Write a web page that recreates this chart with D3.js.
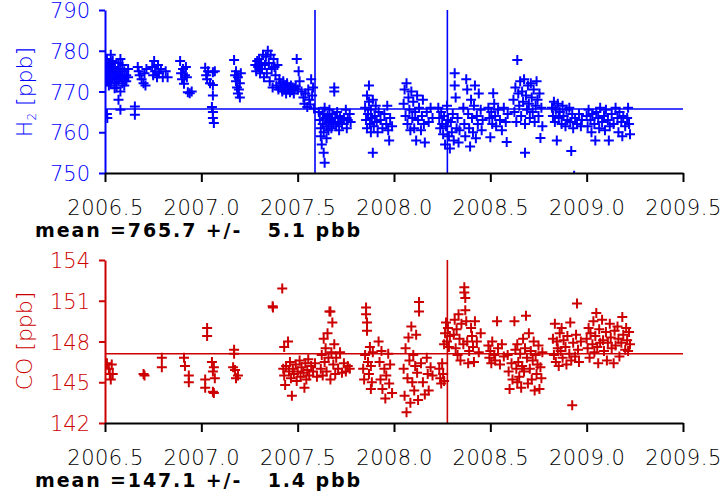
<!DOCTYPE html>
<html>
<head>
<meta charset="utf-8">
<script src="https://cdn.jsdelivr.net/npm/d3@7"></script>
<style>
  html, body { margin: 0; padding: 0; background: #fff; }
  svg { display: block; }
  text { font-family: "DejaVu Sans", "Liberation Sans", sans-serif; }
</style>
</head>
<body>
<svg id="chart" width="723" height="497"></svg>
<script>
// ---------- DATA ----------
const xTicks = [2006.5, 2007.0, 2007.5, 2008.0, 2008.5, 2009.0, 2009.5];
const h2Ticks = [750, 760, 770, 780, 790];
const coTicks = [142, 145, 148, 151, 154];
const h2Mean = 765.7, h2Std = 5.1;
const coMean = 147.1, coStd = 1.4;
const h2Events = [2007.59, 2008.277];
const coEvents = [2008.277];

// [decimal year, H2 ppb]
const h2Data = [
 [2006.51,776],[2006.51,774],[2006.51,772.5],[2006.51,778],[2006.51,764.5],[2006.512,763.5],
 [2006.52,777],[2006.52,775],[2006.52,773],[2006.52,771.5],[2006.53,779],[2006.53,776.5],[2006.53,774.5],[2006.53,772],
 [2006.54,775.5],[2006.54,773.5],[2006.54,777.5],[2006.55,774],[2006.55,772],[2006.55,770.8],[2006.55,776],
 [2006.56,775],[2006.56,773],[2006.56,771],[2006.57,774.5],[2006.57,777],[2006.57,772.5],[2006.57,768],
 [2006.58,775.5],[2006.58,773.5],[2006.58,778],[2006.58,765.5],[2006.58,770],[2006.59,774],[2006.59,772],[2006.59,776.5],
 [2006.60,773],[2006.60,775],[2006.60,771.5],[2006.61,774],[2006.61,772.5],[2006.62,773.5],[2006.62,775.5],
 [2006.655,766.3],[2006.655,764.3],
 [2006.67,776],[2006.675,775],[2006.68,774],[2006.69,773],[2006.7,772],[2006.71,771.5],[2006.705,774.5],[2006.715,775.5],
 [2006.745,776],[2006.75,774],[2006.755,777.5],[2006.76,775],[2006.77,773.5],[2006.775,776.5],[2006.78,774.5],[2006.79,775.5],[2006.80,773.5],[2006.815,775],[2006.825,773.5],
 [2006.89,777.5],[2006.895,774.5],[2006.90,773],[2006.905,775.5],[2006.91,771.9],[2006.915,774],[2006.92,776],[2006.925,773.5],[2006.93,769.8],[2006.94,769.6],[2006.95,770],
 [2007.02,775.8],[2007.025,774],[2007.03,773],[2007.035,775],[2007.045,772],[2007.06,774.7],[2007.06,771.6],[2007.06,769],[2007.055,766.2],[2007.06,765],[2007.06,763.5],[2007.065,762.3],[2007.07,775],
 [2007.17,777.7],[2007.175,774],[2007.18,775],[2007.18,772.5],[2007.185,771],[2007.19,773.5],[2007.19,769.5],[2007.195,770.5],[2007.2,772],[2007.205,774.5],[2007.2,768.5],
 [2007.28,776.5],[2007.285,775],[2007.29,777.5],[2007.295,776],[2007.30,778],[2007.305,774.5],[2007.31,777],[2007.315,775.5],[2007.32,779],[2007.325,773.5],
 [2007.33,776.5],[2007.335,778.5],[2007.34,774.5],[2007.345,780],[2007.35,777],[2007.355,772.5],[2007.36,779],[2007.365,775.5],[2007.37,771],[2007.375,778],
 [2007.38,776],[2007.385,774],[2007.39,771.5],[2007.395,776.5],[2007.40,770.5],[2007.405,773],[2007.41,772],[2007.415,771],[2007.42,770],[2007.425,772.5],
 [2007.43,770.5],[2007.435,771.5],[2007.44,769.5],[2007.445,772],[2007.45,770.5],[2007.455,771],[2007.46,769.8],[2007.465,771.5],[2007.47,770.3],[2007.475,771],
 [2007.48,769.5],[2007.485,770.8],[2007.49,771.2],[2007.495,778],[2007.50,770.5],[2007.505,775],[2007.51,772.5],
 [2007.52,770],[2007.53,768.5],[2007.535,767],[2007.54,769.5],[2007.55,766.2],[2007.555,770.5],[2007.56,768],[2007.565,766.8],[2007.57,773],[2007.575,769],[2007.58,771],[2007.585,765.8],
 [2007.61,765],[2007.615,763],[2007.62,761],[2007.62,759],[2007.625,757],[2007.63,764.5],[2007.63,762],[2007.635,760],[2007.635,755],[2007.64,752.5],
 [2007.64,766],[2007.645,763.5],[2007.65,761.5],[2007.65,758.5],[2007.655,764],[2007.66,762.5],[2007.66,760.5],[2007.665,765.5],[2007.67,763],[2007.675,761],
 [2007.68,764.5],[2007.685,762],[2007.69,771],[2007.69,770],[2007.695,763.5],[2007.70,761.5],[2007.705,765],[2007.71,762.5],[2007.715,760.5],[2007.72,764],
 [2007.73,762],[2007.74,763.5],[2007.75,765.5],[2007.755,761],[2007.76,763],[2007.77,764.5],[2007.775,762.5],
 [2007.85,766],[2007.855,763],[2007.86,769],[2007.86,761],[2007.865,764.5],[2007.87,771.5],[2007.87,767.5],[2007.875,762],[2007.88,760],[2007.88,765.5],
 [2007.885,763.5],[2007.89,755],[2007.89,768],[2007.895,761.5],[2007.90,764],[2007.905,766.5],[2007.91,762.5],[2007.915,760],[2007.92,765],[2007.93,763],
 [2007.94,761],[2007.95,764.5],[2007.96,762],[2007.965,766.5],[2007.97,760.5],[2007.975,758],[2007.98,763.5],[2007.99,761.5],
 [2008.05,767],[2008.055,770.5],[2008.06,764],[2008.065,772],[2008.07,762],[2008.075,768.5],[2008.08,765.5],[2008.085,760.5],[2008.09,770],[2008.095,763.5],
 [2008.10,767.5],[2008.105,761],[2008.11,765],[2008.115,758],[2008.12,769],[2008.125,763],[2008.13,766],[2008.14,760.5],[2008.145,764],[2008.15,768],
 [2008.155,762],[2008.16,757.5],[2008.17,765],[2008.18,762.5],[2008.19,766],[2008.20,763.5],
 [2008.23,766],[2008.235,763.5],[2008.24,761],[2008.245,765],[2008.25,762],[2008.255,759.5],[2008.26,764],[2008.265,757],[2008.27,761.5],[2008.275,766.5],
 [2008.28,763],[2008.285,759],[2008.29,756],[2008.295,762.5],[2008.30,760],[2008.305,764.5],[2008.31,758],[2008.315,774.5],[2008.315,771.5],[2008.32,768.5],
 [2008.325,761],[2008.33,763.5],[2008.335,757.5],[2008.34,760.5],
 [2008.36,766],[2008.365,762],[2008.37,759],[2008.375,773],[2008.38,770.5],[2008.385,764.5],[2008.39,761],[2008.395,756.5],[2008.40,768],[2008.405,763.5],
 [2008.41,760],[2008.415,766.5],[2008.42,771.5],[2008.425,758.5],[2008.43,764],[2008.435,762],[2008.44,769.5],[2008.45,765.5],[2008.455,760.5],[2008.46,763],
 [2008.49,766],[2008.495,763.5],[2008.50,758.8],[2008.505,765],[2008.51,762],[2008.515,769.6],[2008.52,767],[2008.525,764],[2008.53,761.5],[2008.54,765.5],
 [2008.55,763],[2008.56,760.5],[2008.57,766],[2008.58,762.5],[2008.585,757.6],[2008.59,764.5],
 [2008.62,768],[2008.625,765],[2008.63,771],[2008.635,762.5],[2008.64,777.7],[2008.645,769.5],[2008.65,766.5],[2008.655,772.5],[2008.66,764],[2008.665,770],
 [2008.67,767.5],[2008.675,773],[2008.68,762],[2008.68,755],[2008.685,769],[2008.69,765.5],[2008.695,771.5],[2008.70,767],[2008.705,763.5],[2008.71,772],
 [2008.715,768.5],[2008.72,765],[2008.725,770.5],[2008.73,762.5],[2008.735,766.5],[2008.74,772.5],[2008.745,768],[2008.75,764],[2008.755,769.5],[2008.76,758.6],
 [2008.765,766],[2008.77,761.5],
 [2008.82,766],[2008.825,764],[2008.83,767.5],[2008.835,762.5],[2008.84,765.5],[2008.845,758],[2008.85,767],[2008.855,763.5],[2008.86,765],[2008.87,762],
 [2008.875,766.5],[2008.88,764],[2008.89,761.5],[2008.895,765.5],[2008.90,763],[2008.91,766],[2008.915,762.5],[2008.92,755.4],[2008.925,764.5],[2008.93,761],
 [2008.935,749.3],[2008.94,763.5],[2008.95,762],[2008.96,764.5],[2008.97,761.5],[2008.975,763],
 [2009.00,764],[2009.005,761.5],[2009.01,765.5],[2009.02,763],[2009.025,760],[2009.03,764.5],[2009.04,762],[2009.045,758],[2009.05,765],[2009.06,763.5],
 [2009.065,761],[2009.07,766],[2009.08,762.5],[2009.09,764],[2009.095,760.5],[2009.10,765.5],[2009.11,763],[2009.115,758],[2009.12,761.5],[2009.13,764.5],
 [2009.14,762],[2009.15,766],[2009.16,763.5],[2009.165,760],[2009.17,765],[2009.18,762.5],[2009.185,759],[2009.19,764],[2009.2,761.5],[2009.21,763.5],
 [2009.215,766],[2009.22,762],[2009.225,759.5]
];

// [decimal year, CO ppb]
const coData = [
 [2006.51,146.4],[2006.52,146],[2006.525,145.6],[2006.53,145.2],[2006.535,146.3],[2006.54,145.6],
 [2006.70,145.6],[2006.705,145.5],
 [2006.795,146.8],[2006.795,146.1],
 [2006.91,146.8],[2006.915,146.2],[2006.935,145.5],[2006.935,145],
 [2007.03,149],[2007.03,148.4],[2007.02,145.2],[2007.02,144.6],[2007.06,144.3],[2007.065,144.2],[2007.055,146.5],[2007.065,146.1],[2007.07,145.3],[2007.06,145.8],
 [2007.17,147.4],[2007.17,147.1],[2007.165,146.1],[2007.175,145.9],[2007.19,145.5],[2007.18,145.3],
 [2007.37,150.6],[2007.372,150.5],[2007.42,151.9],
 [2007.43,147.6],[2007.425,146],[2007.43,145.5],[2007.435,144.8],[2007.44,146.2],[2007.45,148],[2007.455,145.8],[2007.46,146.5],[2007.465,145.3],[2007.47,144],
 [2007.475,146],[2007.48,145.6],[2007.49,146.3],[2007.495,145.1],[2007.50,145.8],[2007.51,146.6],[2007.515,145.4],[2007.52,146.1],[2007.53,145.7],[2007.535,144.6],
 [2007.54,146.4],[2007.545,145.2],[2007.55,145.9],[2007.555,146.7],[2007.56,145.5],[2007.57,146.2],[2007.58,145.8],[2007.59,146.4],[2007.60,145.4],
 [2007.62,146],[2007.625,147],[2007.63,145.5],[2007.635,148.2],[2007.64,146.5],[2007.645,147.5],[2007.65,145.8],[2007.655,148.6],[2007.66,146.8],[2007.665,150.2],
 [2007.67,150.2],[2007.67,145.2],[2007.675,147.2],[2007.68,149.4],[2007.685,146.3],[2007.69,147.8],[2007.695,145.6],[2007.70,146.8],[2007.71,146],[2007.72,147.2],
 [2007.73,145.7],[2007.74,146.4],[2007.75,145.8],[2007.76,146.2],[2007.77,146],
 [2007.84,146],[2007.845,145.2],[2007.85,147],[2007.855,150.5],[2007.855,150],[2007.86,149.4],[2007.86,148.8],[2007.865,146.5],[2007.87,145.6],[2007.875,147.6],
 [2007.88,144.5],[2007.88,146.2],[2007.885,145],[2007.89,147.2],
 [2007.92,148],[2007.925,146.5],[2007.93,145.2],[2007.935,147.3],[2007.94,144.5],[2007.95,146],[2007.955,143.8],[2007.96,145.5],[2007.97,147.1],[2007.975,144.9],
 [2007.98,146.3],[2007.99,144.2],
 [2008.05,146],[2008.055,144],[2008.06,147.5],[2008.065,142.8],[2008.07,145.3],[2008.075,148.3],[2008.08,146.6],[2008.085,143.5],[2008.09,149.1],[2008.095,145],
 [2008.10,147],[2008.105,144.4],[2008.11,146.2],[2008.115,148.5],[2008.12,145.7],[2008.125,143.7],
 [2008.13,150.9],[2008.13,150.2],[2008.14,146.4],[2008.15,145],[2008.16,144.1],[2008.17,146.8],[2008.175,145.6],[2008.18,144.4],[2008.19,146.1],[2008.2,145.5],
 [2008.235,146],[2008.24,145.3],[2008.245,144.9],[2008.25,146.4],[2008.255,145.6],[2008.26,145.1],
 [2008.26,147.8],[2008.265,148.6],[2008.27,149.4],[2008.275,148],[2008.28,149],[2008.285,147.6],[2008.29,148.4],
 [2008.31,148.5],[2008.315,149.6],[2008.32,147.5],[2008.325,148.9],[2008.33,147],[2008.335,150],[2008.34,148.2],[2008.345,146.6],[2008.35,149.3],[2008.36,147.8],
 [2008.365,152],[2008.365,151.6],[2008.37,151.2],[2008.37,150.3],[2008.375,149.5],[2008.38,148],[2008.385,146.4],[2008.39,147.3],[2008.40,149],[2008.405,148.4],
 [2008.41,147.6],[2008.415,146.5],[2008.42,149.5],[2008.43,148],[2008.44,147.2],[2008.45,148.6],
 [2008.49,147.7],[2008.495,146.8],[2008.50,147.3],[2008.505,146.4],[2008.51,148],[2008.52,147],[2008.525,146.6],[2008.535,149.5],[2008.54,147.5],[2008.55,146.3],
 [2008.56,147.8],[2008.57,146.9],
 [2008.59,147],[2008.595,145.8],[2008.60,144.5],[2008.61,146.4],[2008.615,145.2],[2008.625,149.5],[2008.63,147.4],[2008.635,146],[2008.64,145],
 [2008.64,147.8],[2008.645,146.5],[2008.65,145.4],[2008.655,147.1],[2008.66,144.6],[2008.665,146.2],[2008.67,148.2],[2008.675,145.8],[2008.68,147.5],[2008.685,149.9],
 [2008.69,146.8],[2008.695,144.9],[2008.70,148.6],[2008.705,146],[2008.71,147.3],[2008.715,145.2],[2008.72,146.6],[2008.725,148],[2008.73,144.4],[2008.735,147],
 [2008.74,145.6],[2008.745,146.3],[2008.75,147.7],[2008.755,144.5],[2008.76,146.1],[2008.765,145.3],[2008.77,147.2],
 [2008.825,148.2],[2008.83,147],[2008.835,149.3],[2008.84,146.5],[2008.845,148],[2008.85,147.5],[2008.855,146.2],[2008.86,148.6],[2008.865,147.3],[2008.87,149],
 [2008.875,146.8],[2008.88,148.1],[2008.89,147.6],[2008.895,146.3],[2008.90,148.4],[2008.91,147.1],[2008.915,149.4],[2008.92,146.6],[2008.925,143.3],[2008.93,147.9],
 [2008.94,146.9],[2008.945,148.5],[2008.95,150.8],[2008.955,147.4],[2008.96,146.5],[2008.97,148],
 [2009.00,148.2],[2009.005,147.5],[2009.01,149],[2009.015,146.8],[2009.02,148.6],[2009.03,147.8],[2009.035,149.5],[2009.04,147.2],[2009.045,148.4],[2009.05,150.1],
 [2009.055,147.6],[2009.06,146.4],[2009.065,148.9],[2009.07,147.9],[2009.08,149.6],[2009.085,148.1],[2009.09,147.3],[2009.10,148.7],[2009.105,146.6],[2009.11,147.9],
 [2009.12,149.3],[2009.125,148.3],[2009.13,147.5],[2009.14,146.4],[2009.145,148.8],[2009.15,147.7],[2009.16,149.1],[2009.165,148.2],[2009.17,146.9],[2009.18,147.9],
 [2009.185,149.8],[2009.19,148.5],[2009.2,147.4],[2009.205,149],[2009.21,148.1],[2009.215,147.3],[2009.22,148.7],[2009.225,147.8]
];

// ---------- DRAWING ----------
const svg = d3.select("#chart");
const X0 = 105, X1 = 683;
const LIGHT = "'DejaVu Sans ExtraLight', 'DejaVu Sans', sans-serif";

function panel(cfg) {
  const g = svg.append("g");
  const x = d3.scaleLinear().domain([xTicks[0], xTicks[xTicks.length - 1]]).range([X0, X1]);
  const y = d3.scaleLinear().domain([cfg.ticks[0], cfg.ticks[cfg.ticks.length - 1]]).range([cfg.bottom, cfg.top]);
  const clipId = "clip-" + cfg.id;
  svg.append("clipPath").attr("id", clipId)
    .append("rect").attr("x", X0).attr("y", cfg.top - 1).attr("width", X1 - X0 + 2).attr("height", cfg.bottom - cfg.top + 1);

  const plot = g.append("g").attr("clip-path", `url(#${clipId})`);
  plot.selectAll("path.pt").data(cfg.data).join("path")
    .attr("class", "pt")
    .attr("transform", d => `translate(${x(d[0])},${y(d[1])})`)
    .attr("d", "M-5,0H5M0,-5V5")
    .attr("stroke", cfg.color).attr("stroke-width", 2).attr("fill", "none");
  plot.append("line")
    .attr("x1", X0).attr("x2", X1).attr("y1", y(cfg.mean)).attr("y2", y(cfg.mean))
    .attr("stroke", cfg.color).attr("stroke-width", 1.6);
  plot.selectAll("line.ev").data(cfg.events).join("line")
    .attr("class", "ev")
    .attr("x1", d => x(d)).attr("x2", d => x(d))
    .attr("y1", cfg.top).attr("y2", cfg.bottom)
    .attr("stroke", cfg.color).attr("stroke-width", 1.6);

  const ya = g.append("g").attr("transform", `translate(${X0},0)`)
    .call(d3.axisLeft(y).tickValues(cfg.ticks).tickFormat(d3.format("d")).tickSize(6).tickSizeOuter(0).tickPadding(9));
  ya.select(".domain").attr("stroke", cfg.color).attr("stroke-width", 2);
  ya.selectAll(".tick line").attr("stroke", cfg.color).attr("stroke-width", 2);
  ya.selectAll(".tick text").attr("fill", cfg.color).attr("font-size", 21)
    .attr("font-family", LIGHT).attr("font-weight", 200).attr("dy", "0.36em");

  const xa = g.append("g").attr("transform", `translate(0,${cfg.bottom})`)
    .call(d3.axisBottom(x).tickValues(xTicks).tickFormat(d3.format(".1f")).tickSize(9).tickSizeOuter(0).tickPadding(18));
  xa.select(".domain").attr("stroke", "#000").attr("stroke-width", 2);
  xa.selectAll(".tick line").attr("stroke", "#000").attr("stroke-width", 2);
  xa.selectAll(".tick text").attr("fill", "#000").attr("font-size", 21)
    .attr("font-family", LIGHT).attr("font-weight", 200).attr("letter-spacing", 0.5);

  const t = g.append("text")
    .attr("transform", `translate(${cfg.titleX},${cfg.titleY}) rotate(-90)`)
    .attr("text-anchor", "middle").attr("fill", cfg.color)
    .attr("font-size", 22).attr("font-family", LIGHT).attr("font-weight", 200);
  cfg.title(t);

  g.append("text")
    .attr("x", 35).attr("y", cfg.bottom + 64)
    .attr("xml:space", "preserve")
    .style("white-space", "pre")
    .attr("font-size", 19).attr("font-weight", "bold").attr("font-family", "DejaVu Sans")
    .attr("fill", "#000")
    .attr("textLength", 325).attr("lengthAdjust", "spacing")
    .text(`mean =${cfg.mean.toFixed(1)} +/-   ${cfg.std.toFixed(1)} pbb`);
}

panel({
  id: "h2", top: 10, bottom: 173, ticks: h2Ticks, data: h2Data, color: "#0000ff",
  mean: h2Mean, std: h2Std, events: h2Events, titleX: 32, titleY: 92,
  title: t => {
    t.append("tspan").text("H");
    t.append("tspan").attr("font-size", 12).attr("dy", 4).text("2");
    t.append("tspan").attr("dy", -4).text(" [ppb]");
  }
});
panel({
  id: "co", top: 260, bottom: 423, ticks: coTicks, data: coData, color: "#cc0000",
  mean: coMean, std: coStd, events: coEvents, titleX: 32, titleY: 341,
  title: t => { t.text("CO [ppb]"); }
});
</script>
</body>
</html>
